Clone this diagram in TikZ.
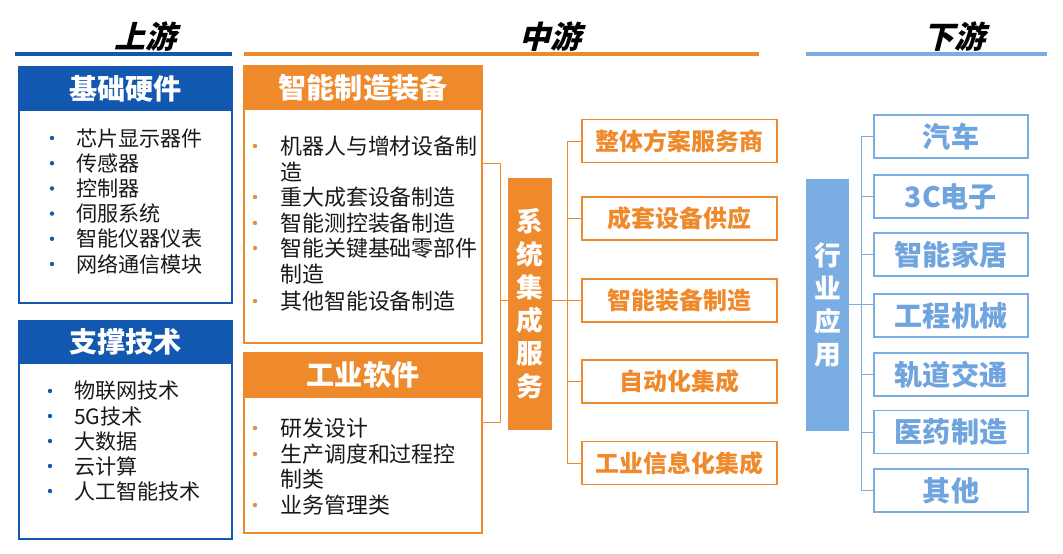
\documentclass[tikz,border=0pt]{standalone}
\usepackage{fontspec}
\setmainfont{Noto Sans CJK SC}
\newfontfamily\headfont[FakeSlant=0.25]{Noto Sans CJK SC}
\definecolor{dblue}{HTML}{1258B0}
\definecolor{orng}{HTML}{EE8A2C}
\definecolor{lblue}{HTML}{7AAEE3}
\definecolor{ltxt}{HTML}{6FA4DE}
\usetikzlibrary{positioning}

\tikzset{
  stage/.style={font=\headfont\bfseries\fontsize{22}{26}\selectfont,inner sep=0pt},
  stageline/.style={line width=2.8pt},
  frame/.style={draw=#1,line width=1.2pt,rectangle,inner sep=0pt},
  head/.style={fill=#1,draw=#1,line width=1.2pt,rectangle,inner sep=0pt,text=white,
    font=\bfseries\fontsize{20}{24}\selectfont},
  item/.style={anchor=west,inner sep=0pt,text=black!90,font=\fontsize{15}{18}\selectfont},
  bigitem/.style={item,font=\fontsize{15.6}{18}\selectfont},
  vbar/.style={fill=#1,rectangle,inner sep=0pt,text=white,align=center,
    font=\bfseries\fontsize{19}{23.5}\selectfont},
  obox/.style={draw=orng,line width=1.2pt,rectangle,inner sep=0pt,text=orng,
    minimum width=4.875cm,minimum height=1.075cm,font=\bfseries\fontsize{17}{20}\selectfont},
  lbox/.style={draw=lblue,line width=1.2pt,rectangle,inner sep=0pt,text=ltxt,
    minimum width=3.85cm,minimum height=1.075cm,font=\bfseries\fontsize{20}{24}\selectfont},
  oline/.style={draw=orng,line width=0.7pt},
  lline/.style={draw=lblue,line width=0.7pt}
}

\begin{document}
\begin{tikzpicture}[x=0.025cm,y=-0.025cm]
\useasboundingbox (0,0) rectangle (1063,553);

% stages
\node[stage] (up) at (145,37) {上游};
\node[stage] (mid) at (550,37) {中游};
\node[stage] (down) at (954,37) {下游};
\draw[stageline,dblue] (15,54) -- (232,54);
\draw[stageline,orng] (244,54) -- (759,54);
\draw[stageline,lblue] (806,54) -- (1047,54);

% upstream
\node[frame=dblue,minimum width=5.325cm,minimum height=5.9cm] (hwbox) at (125.5,185) {};
\node[head=dblue,minimum width=5.325cm,minimum height=1.075cm] (hwhead) at (125.5,88.5) {基础硬件};
\foreach \t [count=\i] in {芯片显示器件,传感器,控制器,伺服系统,智能仪器仪表,网络通信模块}
{
  \fill[dblue] (52,{138+25.2*(\i-1)}) circle (2.2);
  \node[item] (hw\i) at (76,{138+25.2*(\i-1)}) {\t};
}
\node[frame=dblue,minimum width=5.325cm,minimum height=5.45cm] (stbox) at (125.5,430) {};
\node[head=dblue,minimum width=5.325cm,minimum height=1.05cm] (sthead) at (125.5,342) {支撑技术};
\foreach \t [count=\i] in {物联网技术,5G技术,大数据,云计算,人工智能技术}
{
  \fill[dblue] (50,{391+25*(\i-1)}) circle (2.2);
  \node[item] (st\i) at (74,{391+25*(\i-1)}) {\t};
}

% midstream
\node[frame=orng,minimum width=5.95cm,minimum height=6.925cm] (eqbox) at (363,204.5) {};
\node[head=orng,minimum width=5.95cm,minimum height=1.075cm] (eqhead) at (363,87.5) {智能制造装备};
\foreach \y/\t [count=\i] in {146/机器人与增材设备制,172/造,197/重大成套设备制造,223/智能测控装备制造,
  248/智能关键基础零部件,274/制造,301/其他智能设备制造}
  \node[bigitem] (eq\i) at (280,\y) {\t};
\foreach \y in {146,197,223,248,301}
  \fill[orng] (255,\y) circle (2.2);
\node[frame=orng,minimum width=5.95cm,minimum height=4.5cm] (swbox) at (363,443) {};
\node[head=orng,minimum width=5.95cm,minimum height=1.1cm] (swhead) at (363,375) {工业软件};
\foreach \y/\t [count=\i] in {428/研发设计,454/生产调度和过程控,479/制类,505/业务管理类}
  \node[bigitem] (sw\i) at (280,\y) {\t};
\foreach \y in {428,454,505}
  \fill[orng] (255,\y) circle (2.2);

\node[vbar=orng,minimum width=1.1cm,minimum height=6.3cm] (sys) at (530,304) {系\\统\\集\\成\\服\\务};
\foreach \y/\t [count=\i] in {141/整体方案服务商,218.5/成套设备供应,300.5/智能装备制造,381.5/自动化集成,463/工业信息化集成}
  \node[obox] (ob\i) at (679.5,\y) {\t};

\coordinate (j1) at (500,163);
\coordinate (j2) at (500,422);
\draw[oline] (eqbox.east |- j1) -- (j1) -- (j2) -- (swbox.east |- j2);
\draw[oline] (j1 |- ob3) -- (ob3 -| sys.west);
\coordinate (k) at (567,302);
\draw[oline] (ob3 -| sys.east) -- (k |- ob3);
\draw[oline] (k |- ob1) -- (k |- ob5);
\foreach \i in {1,2,4,5}
  \draw[oline] (k |- ob\i) -- (ob\i.west);
\draw[oline] (k |- ob3) -- (ob3.west);

% downstream
\node[vbar=lblue,minimum width=1.075cm,minimum height=6.3cm] (ind) at (827.5,305) {行\\业\\应\\用};
\foreach \y/\t [count=\i] in {136.5/汽车,196.5/3C电子,254.5/智能家居,315.5/工程机械,374.5/轨道交通,432/医药制造,490.5/其他}
  \node[lbox] (lb\i) at (951,\y) {\t};

\coordinate (m) at (861,304);
\draw[lline] (ind.east |- m) -- (m -| lb4.west);
\draw[lline] (m |- lb1) -- (m |- lb7);
\foreach \i in {1,2,3,5,6,7}
  \draw[lline] (m |- lb\i) -- (lb\i.west);
\end{tikzpicture}
\end{document}
